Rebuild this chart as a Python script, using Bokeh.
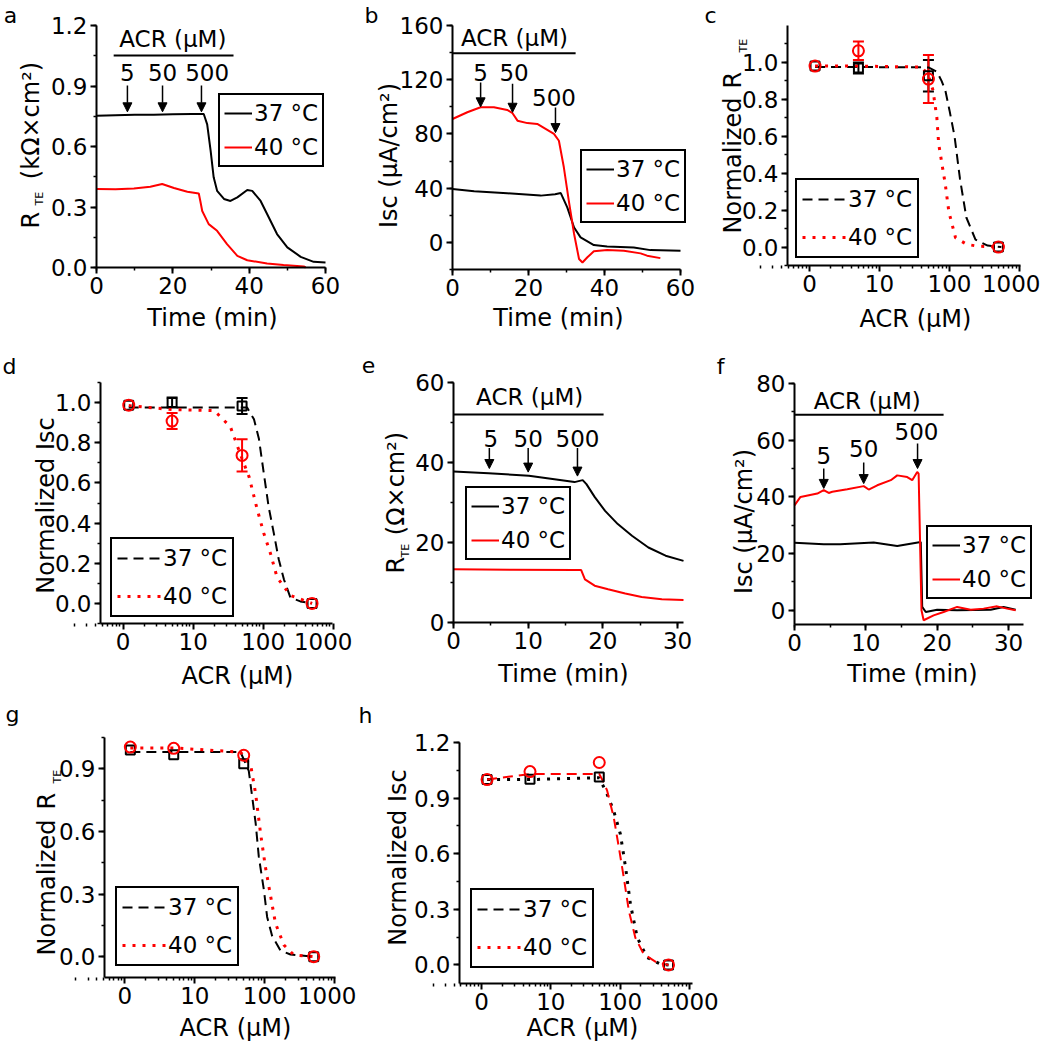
import math
from bokeh.plotting import figure
from bokeh.models import (Range1d, Label, Legend, LegendItem, Arrow, NormalHead,
                          Whisker, TeeHead, ColumnDataSource, SingleIntervalTicker,
                          FixedTicker, NumeralTickFormatter)
from bokeh.layouts import row, column
from bokeh.embed import file_html
from bokeh.resources import INLINE

FONT = "DejaVu Sans"
RED = "#ff0000"

# ---------------- data ----------------
series_labels = ["37 °C", "40 °C"]
doses = ["5", "50", "500"]
conc = [1.2, 5, 50, 500]
conc_ticks = [1, 10, 100, 1000]
conc_tick_labels = ["0", "10", "100", "1000"]

# panel a : RTE (kOhm x cm2) vs time
a_t37 = [0, 5, 10, 15, 20, 25, 28.1, 29.0, 29.9, 30.7, 31.6, 33.4, 35.1, 36.9, 39.5, 40.8, 43.0, 44.7, 47.3, 50.0, 53.5, 56.9, 60.0]
a_r37 = [0.753, 0.755, 0.757, 0.758, 0.760, 0.761, 0.761, 0.71, 0.58, 0.447, 0.38, 0.34, 0.33, 0.348, 0.384, 0.38, 0.33, 0.265, 0.166, 0.10, 0.053, 0.028, 0.025]
a_t40 = [0, 5, 9.8, 14.1, 17.2, 20.3, 23.8, 26.8, 27.2, 27.7, 29.4, 31.6, 34.2, 36.9, 39.5, 44.7, 49.0, 54.3, 54.8]
a_r40 = [0.389, 0.388, 0.392, 0.40, 0.414, 0.394, 0.376, 0.367, 0.33, 0.28, 0.215, 0.182, 0.116, 0.058, 0.036, 0.02, 0.012, 0.005, 0.0]
a_acr_text = [20.0, 1.131]
a_acr_line_x = [4.5, 35.9]
a_acr_line_y = 1.051
a_dose_x = [8.1, 17.3, 29.0]
a_dose_y = [0.967, 0.967, 0.967]
a_arrow_x = [8.1, 17.3, 27.5]
a_arrow_top = [0.903, 0.903, 0.903]
a_arrow_tip = [0.772, 0.772, 0.772]

# panel b : Isc (uA/cm2) vs time
b_t37 = [0, 5.7, 14.4, 23.2, 27.0, 28.5, 30.2, 32.0, 33.7, 37.2, 40.7, 47.7, 52.1, 60.0]
b_i37 = [39.4, 37.7, 36.2, 34.5, 35.5, 36.4, 25.8, 11.0, 3.7, -2.0, -3.0, -3.7, -5.7, -6.2]
b_t40 = [0, 3.9, 7.4, 10.9, 14.4, 15.8, 17.1, 19.7, 22.3, 24.5, 26.7, 28.0, 29.3, 30.6, 32.0, 33.3, 34.2, 35.5, 37.2, 40.7, 45.1, 49.5, 51.2, 54.7]
b_i40 = [91, 96, 99.7, 99.7, 97.7, 95.3, 89.8, 88.0, 87.4, 83.7, 80.0, 75.0, 55.4, 30.8, 6.2, -12.3, -14.8, -11.0, -6.6, -5.7, -6.2, -8.1, -9.8, -11.6]
b_acr_text = [16.3, 151]
b_acr_line_x = [0, 32.4]
b_acr_line_y = 139.6
b_dose_x = [7.4, 16.2, 26.7]
b_dose_y = [125, 125, 107]
b_arrow_x = [7.4, 15.8, 27.1]
b_arrow_top = [118, 117, 99.6]
b_arrow_tip = [100, 96, 81]

# panel c : normalized RTE vs ACR
c_r37 = [0.98, 0.97, 0.928, 0.0]
c_e37 = [0.0, 0.03, 0.085, 0.0]
c_r40 = [0.98, 1.063, 0.91, 0.0]
c_e40 = [0.0, 0.05, 0.13, 0.0]
c_fit37_x = [1.2, 5, 50, 66, 77, 87, 100, 118, 141, 174, 235, 350, 550]
c_fit37_y = [0.975, 0.975, 0.973, 0.95, 0.90, 0.85, 0.74, 0.60, 0.37, 0.16, 0.04, 0.008, 0.0]
c_fit40_x = [1.2, 5, 40, 50, 58, 66, 70, 78, 87, 98, 122, 178, 250, 550]
c_fit40_y = [0.98, 0.98, 0.975, 0.93, 0.85, 0.70, 0.56, 0.45, 0.34, 0.19, 0.05, 0.014, 0.005, 0.0]

# panel d : normalized Isc vs ACR
d_i37 = [0.987, 1.0, 0.983, 0.0]
d_e37 = [0.0, 0.025, 0.04, 0.0]
d_i40 = [0.987, 0.908, 0.737, 0.0]
d_e40 = [0.0, 0.04, 0.08, 0.0]
d_fit37_x = [1.2, 5, 50, 59, 74, 87, 102, 120, 142, 167, 198, 245, 340, 500]
d_fit37_y = [0.975, 0.975, 0.975, 0.975, 0.917, 0.82, 0.65, 0.48, 0.35, 0.22, 0.12, 0.03, 0.01, 0.0]
d_fit40_x = [1.2, 5, 20, 34, 50, 63, 82, 102, 127, 158, 245, 500]
d_fit40_y = [0.985, 0.965, 0.96, 0.88, 0.72, 0.63, 0.47, 0.35, 0.25, 0.13, 0.04, 0.0]

# panel e : RTE (Ohm x cm2) vs time
e_t37 = [0, 4.7, 10.1, 16.2, 17.3, 17.8, 18.9, 20.3, 22.0, 23.9, 26.1, 28.4, 30.8]
e_r37 = [37.75, 37.3, 36.7, 35.1, 35.6, 34.6, 31.4, 27.9, 24.6, 21.7, 18.75, 16.7, 15.4]
e_t40 = [0, 8.0, 16.2, 17.1, 17.6, 18.9, 20.7, 23.0, 25.2, 27.9, 30.8]
e_r40 = [13.3, 13.2, 13.1, 13.1, 10.8, 9.2, 8.3, 7.25, 6.4, 5.8, 5.6]
e_acr_text = [10.2, 56.5]
e_acr_line_x = [0, 20.1]
e_acr_line_y = 52
e_dose_x = [5.0, 10.0, 16.6]
e_dose_y = [46.1, 46.1, 46.1]
e_arrow_x = [4.8, 10.0, 16.6]
e_arrow_top = [43.6, 43.6, 43.6]
e_arrow_tip = [38.5, 37.6, 36.6]

# panel f : Isc (uA/cm2) vs time
f_t37 = [0, 4.1, 6.4, 11.1, 14.4, 17.7, 17.9, 18.4, 20.0, 22.8, 27.5, 29.3, 31.0]
f_i37 = [23.8, 23.3, 23.3, 23.9, 22.7, 24.1, 1.2, -0.6, 0.2, 0.0, 0.2, 1.2, 0.2]
f_t40 = [0, 0.84, 3.2, 4.1, 4.8, 5.3, 7.4, 9.7, 10.4, 11.6, 13.5, 14.4, 15.8, 16.5, 17.2, 17.4, 17.8, 18.1, 19.5, 20.9, 22.8, 24.7, 26.5, 28.4, 29.8, 31.0]
f_i40 = [37, 40, 41.2, 42.4, 41.4, 41.8, 42.7, 43.8, 42.6, 44.1, 45.9, 47.6, 47.0, 45.9, 48.8, 48.2, 0, -3.5, -1.8, -0.6, 1.2, 0.2, 0.6, 1.4, 0.6, 0.0]
f_acr_text = [10.2, 74]
f_acr_line_x = [0, 20.9]
f_acr_line_y = 69
f_dose_x = [4.1, 9.7, 17.1]
f_dose_y = [54.6, 57, 63]
f_arrow_x = [4.1, 9.7, 17.25]
f_arrow_top = [50, 52.1, 58.8]
f_arrow_tip = [43, 44.7, 50]

# panel g : normalized RTE vs ACR
g_r37 = [0.99, 0.967, 0.924, 0.0]
g_r40 = [1.004, 0.998, 0.965, 0.0]
g_fit37_x = [1.2, 5, 45, 59, 64, 74, 82, 97, 108, 127, 167, 233, 500]
g_fit37_y = [0.98, 0.98, 0.98, 0.89, 0.80, 0.64, 0.48, 0.32, 0.19, 0.10, 0.03, 0.01, 0.0]
g_fit40_x = [1.2, 5, 45, 63, 74, 87, 102, 121, 142, 187, 260, 500]
g_fit40_y = [1.0, 1.0, 0.98, 0.915, 0.78, 0.59, 0.43, 0.29, 0.16, 0.056, 0.008, 0.0]

# panel h : normalized Isc vs ACR
h_i37 = [1.0, 1.002, 1.014, 0.0]
h_i40 = [1.0, 1.043, 1.092, 0.0]
h_fit37_x = [1.2, 5, 50, 65, 81, 101, 120, 141, 177, 246, 380, 500]
h_fit37_y = [1.0, 1.0, 1.01, 0.92, 0.83, 0.705, 0.525, 0.327, 0.147, 0.04, 0.005, 0.0]
h_fit40_x = [1.2, 5, 50, 58, 65, 81, 96, 113, 134, 166, 219, 340, 500]
h_fit40_y = [1.0, 1.03, 1.03, 0.984, 0.94, 0.795, 0.633, 0.471, 0.29, 0.147, 0.058, 0.013, 0.0]

# ---------------- layout helpers ----------------
XS = 0   # page x = reference x + XS
SY = 0   # page y = reference y + SY
LOG_MINOR = [m * 10.0 ** e for e in range(-1, 3) for m in range(2, 10)]
PANELS = {}


def new_fig(cx, cy, rect, xr, yr, log=False):
    """Frame = whole canvas; the data rectangle `rect` (page px) is obtained
    by extending the ranges; axes are pinned with fixed_location + bounds."""
    cx0, cx1 = cx
    cy0, cy1 = cy
    W, H = cx1 - cx0, cy1 - cy0
    l, t, r, b = rect
    L, R = l + XS - cx0, r + XS - cx0
    T, B = t + SY - cy0, b + SY - cy0
    fx = math.log10 if log else (lambda v: v)
    gx = (lambda v: 10 ** v) if log else (lambda v: v)
    x0, x1 = fx(xr[0]), fx(xr[1])
    kx = (x1 - x0) / (R - L)
    xs, xe = gx(x0 - L * kx), gx(x1 + (W - R) * kx)
    y0, y1 = yr
    ky = (y1 - y0) / (B - T)
    ys, ye = y0 - (H - B) * ky, y1 + T * ky
    p = figure(width=W, height=H, min_border=0,
               x_range=Range1d(xs, xe), y_range=Range1d(ys, ye),
               x_axis_type="log" if log else "linear",
               output_backend="svg", toolbar_location=None)
    PANELS[p.id] = (cx0, cy0, H)
    p.xgrid.visible = False
    p.ygrid.visible = False
    p.outline_line_color = None
    p.background_fill_color = "white"
    p.border_fill_color = "white"
    p.xaxis.fixed_location = yr[0]
    p.xaxis.bounds = tuple(xr)
    p.yaxis.fixed_location = xr[0]
    p.yaxis.bounds = tuple(yr)
    for ax in (p.xaxis[0], p.yaxis[0]):
        ax.axis_line_width = 2
        ax.axis_line_color = "black"
        ax.major_tick_line_width = 2
        ax.major_tick_line_color = "black"
        ax.minor_tick_line_width = 1.5
        ax.minor_tick_line_color = "black"
        ax.major_tick_out = 6
        ax.major_tick_in = 0
        ax.minor_tick_out = 3
        ax.minor_tick_in = 0
        ax.major_label_text_font = FONT
        ax.major_label_text_font_size = "23px"
        ax.major_label_text_color = "black"
        ax.major_label_standoff = 3
    if log:
        p.xaxis.ticker = FixedTicker(ticks=conc_ticks, minor_ticks=LOG_MINOR)
        p.xaxis.major_label_overrides = {t: s for t, s in zip(conc_ticks, conc_tick_labels)}
    return p


def scr(p, x, y):
    cx0, cy0, H = PANELS[p.id]
    return x + XS - cx0, H - (y + SY - cy0)


def txt(p, x, y, text, size="24px", angle=0.0, align="center", baseline="middle"):
    sx, sy = scr(p, x, y)
    p.add_layout(Label(x=sx, y=sy, x_units="screen", y_units="screen",
                       text=text, angle=angle, text_align=align, text_baseline=baseline,
                       text_font=FONT, text_font_size=size, text_color="black"))


def vtxt(p, x, y, text, size="24px", align="left"):
    txt(p, x, y, text, size=size, angle=math.pi / 2, align=align, baseline="alphabetic")


def add_legend(p, r1, r2, left_bottom, glyph_w, spacing, padding):
    loc = scr(p, *left_bottom)
    lg = Legend(items=[LegendItem(label=series_labels[0], renderers=[r1]),
                       LegendItem(label=series_labels[1], renderers=[r2])],
                location=loc, margin=0, padding=padding, spacing=spacing,
                glyph_width=glyph_w, glyph_height=28, label_height=28,
                label_standoff=2, border_line_color="black", border_line_width=2,
                border_line_alpha=1.0,
                background_fill_color="white", background_fill_alpha=1.0,
                label_text_font=FONT, label_text_font_size="23px",
                label_text_color="black")
    p.add_layout(lg)


def add_acr(p, text_xy, line_x, line_y, dx, dy, ax_, atop, atip):
    p.add_layout(Label(x=text_xy[0], y=text_xy[1], text="ACR (µM)", text_align="center",
                       text_baseline="middle", text_font=FONT, text_font_size="23px",
                       text_color="black"))
    p.line(line_x, [line_y, line_y], line_color="black", line_width=2)
    for s, x, y in zip(doses, dx, dy):
        p.add_layout(Label(x=x, y=y, text=s, text_align="center", text_baseline="middle",
                           text_font=FONT, text_font_size="23px", text_color="black"))
    for x, y0, y1 in zip(ax_, atop, atip):
        p.add_layout(Arrow(end=NormalHead(size=9, fill_color="black", line_color="black",
                                          line_width=1),
                           x_start=x, y_start=y0, x_end=x, y_end=y1,
                           line_color="black", line_width=1.5))


def time_series(p, t37, v37, t40, v40):
    r1 = p.line(t37, v37, line_color="black", line_width=2)
    r2 = p.line(t40, v40, line_color=RED, line_width=2)
    return r1, r2


def add_errors(p, ys, es, color):
    xs = [x for x, e in zip(conc, es) if e > 0]
    up = [y + e for y, e in zip(ys, es) if e > 0]
    lo = [y - e for y, e in zip(ys, es) if e > 0]
    src = ColumnDataSource(dict(x=xs, upper=up, lower=lo))
    p.add_layout(Whisker(source=src, base="x", upper="upper", lower="lower",
                         dimension="height", line_color=color, line_width=2,
                         upper_head=TeeHead(size=11, line_color=color, line_width=2),
                         lower_head=TeeHead(size=11, line_color=color, line_width=2)))


def dose_points(p, y37, y40):
    p.scatter(conc, y37, marker="square", size=9, fill_alpha=0, line_color="black", line_width=2)
    p.scatter(conc, y40, marker="circle", size=11, fill_alpha=0, line_color=RED, line_width=2)


DASH = "10 6"
DOT = "3 7"
NAN = float("nan")
LETTER = "22px"

ROW1, ROW2, ROW3 = (0, 343), (343, 695), (695, 1045)

# ---------------- panel a ----------------
pa = new_fig((0, 348), ROW1, (96, 25, 325, 267), (0, 60), (0, 1.2))
pa.xaxis.ticker = SingleIntervalTicker(interval=20, num_minor_ticks=2)
pa.yaxis.ticker = SingleIntervalTicker(interval=0.3, num_minor_ticks=2)
pa.yaxis.formatter = NumeralTickFormatter(format="0.0")
ra1, ra2 = time_series(pa, a_t37, a_r37, a_t40, a_r40)
add_acr(pa, a_acr_text, a_acr_line_x, a_acr_line_y, a_dose_x, a_dose_y, a_arrow_x, a_arrow_top, a_arrow_tip)
add_legend(pa, ra1, ra2, (218, 167), 28, 6, 4)
txt(pa, 10, 15, "a", size=LETTER)
vtxt(pa, 30, 228, "R")
vtxt(pa, 39, 205, "TE", size="11px")
vtxt(pa, 30, 120, "(kΩ×cm²)", align="center")
txt(pa, 212, 317, "Time (min)")

# ---------------- panel b ----------------
pb = new_fig((348, 701), ROW1, (452, 25, 680, 269), (0, 60), (-20, 160))
pb.xaxis.ticker = SingleIntervalTicker(interval=20, num_minor_ticks=2)
pb.yaxis.ticker = SingleIntervalTicker(interval=40, num_minor_ticks=2)
rb1, rb2 = time_series(pb, b_t37, b_i37, b_t40, b_i40)
add_acr(pb, b_acr_text, b_acr_line_x, b_acr_line_y, b_dose_x, b_dose_y, b_arrow_x, b_arrow_top, b_arrow_tip)
add_legend(pb, rb1, rb2, (580, 223), 28, 6, 4)
txt(pb, 371, 15, "b", size=LETTER)
vtxt(pb, 388, 155, "Isc (µA/cm²)", align="center")
txt(pb, 558, 317, "Time (min)")

# ---------------- panel c ----------------
pc = new_fig((701, 1040), ROW1, (787, 25, 1020, 265), (0.485, 1033), (-0.1, 1.2), log=True)
pc.yaxis.ticker = SingleIntervalTicker(interval=0.2, num_minor_ticks=2)
pc.yaxis.formatter = NumeralTickFormatter(format="0.0")
rc1 = pc.line(c_fit37_x, c_fit37_y, line_color="black", line_width=2, line_dash=DASH)
rc2 = pc.line(c_fit40_x, c_fit40_y, line_color=RED, line_width=3, line_dash=DOT)
add_errors(pc, c_r37, c_e37, "black")
add_errors(pc, c_r40, c_e40, RED)
dose_points(pc, c_r37, c_r40)
add_legend(pc, rc1, rc2, (795, 258), 44, 10, 5)
txt(pc, 710, 15, "c", size=LETTER)
vtxt(pc, 732, 233, "Normalized")
vtxt(pc, 732, 88, "R")
vtxt(pc, 743, 52, "TE", size="11px")
txt(pc, 915, 318, "ACR (µM)")

# ---------------- panel d ----------------
pd_ = new_fig((0, 352), ROW2, (100, 382, 332, 623), (0.474, 980), (-0.1, 1.1), log=True)
pd_.yaxis.ticker = SingleIntervalTicker(interval=0.2, num_minor_ticks=2)
pd_.yaxis.formatter = NumeralTickFormatter(format="0.0")
rd1 = pd_.line(d_fit37_x, d_fit37_y, line_color="black", line_width=2, line_dash=DASH)
rd2 = pd_.line(d_fit40_x, d_fit40_y, line_color=RED, line_width=3, line_dash=DOT)
add_errors(pd_, d_i37, d_e37, "black")
add_errors(pd_, d_i40, d_e40, RED)
dose_points(pd_, d_i37, d_i40)
add_legend(pd_, rd1, rd2, (110, 617), 44, 10, 5)
txt(pd_, 9, 366, "d", size=LETTER)
vtxt(pd_, 45, 505, "Normalized Isc", align="center")
txt(pd_, 237, 675, "ACR (µM)")

# ---------------- panel e ----------------
pe = new_fig((352, 703), ROW2, (453, 382, 683, 622), (0, 30.8), (0, 60))
pe.xaxis.ticker = SingleIntervalTicker(interval=10, num_minor_ticks=2)
pe.yaxis.ticker = SingleIntervalTicker(interval=20, num_minor_ticks=2)
re1, re2 = time_series(pe, e_t37, e_r37, e_t40, e_r40)
add_acr(pe, e_acr_text, e_acr_line_x, e_acr_line_y, e_dose_x, e_dose_y, e_arrow_x, e_arrow_top, e_arrow_tip)
add_legend(pe, re1, re2, (465, 560), 28, 6, 4)
txt(pe, 368, 364, "e", size=LETTER)
vtxt(pe, 395, 573, "R")
vtxt(pe, 405, 557, "TE", size="11px")
vtxt(pe, 395, 483, "(Ω×cm²)", align="center")
txt(pe, 563, 673, "Time (min)")

# ---------------- panel f ----------------
pf = new_fig((703, 1040), ROW2, (794, 383, 1023, 624), (0, 32.1), (-5, 80))
pf.xaxis.ticker = SingleIntervalTicker(interval=10, num_minor_ticks=2)
pf.yaxis.ticker = SingleIntervalTicker(interval=20, num_minor_ticks=2)
rf1, rf2 = time_series(pf, f_t37, f_i37, f_t40, f_i40)
add_acr(pf, f_acr_text, f_acr_line_x, f_acr_line_y, f_dose_x, f_dose_y, f_arrow_x, f_arrow_top, f_arrow_tip)
add_legend(pf, rf1, rf2, (926, 599), 28, 6, 4)
txt(pf, 720, 366, "f", size=LETTER)
vtxt(pf, 743, 521, "Isc (µA/cm²)", align="center")
txt(pf, 912, 673, "Time (min)")

# ---------------- panel g ----------------
pg = new_fig((0, 356), ROW3, (104, 737, 335, 977), (0.513, 1023), (-0.1, 1.05), log=True)
pg.yaxis.ticker = SingleIntervalTicker(interval=0.3, num_minor_ticks=2)
pg.yaxis.formatter = NumeralTickFormatter(format="0.0")
rg1 = pg.line(g_fit37_x, g_fit37_y, line_color="black", line_width=2, line_dash=DASH)
rg2 = pg.line(g_fit40_x, g_fit40_y, line_color=RED, line_width=3, line_dash=DOT)
dose_points(pg, g_r37, g_r40)
add_legend(pg, rg1, rg2, (115, 966), 44, 10, 5)
txt(pg, 12, 714, "g", size=LETTER)
vtxt(pg, 46, 955, "Normalized")
vtxt(pg, 46, 809, "R")
vtxt(pg, 57, 783, "TE", size="11px")
txt(pg, 235, 1027, "ACR (µM)")

# ---------------- panel h ----------------
ph = new_fig((356, 726), ROW3, (459, 742, 692, 983), (0.48, 1109), (-0.1, 1.2), log=True)
ph.yaxis.ticker = SingleIntervalTicker(interval=0.3, num_minor_ticks=2)
ph.yaxis.formatter = NumeralTickFormatter(format="0.0")
ph.line(h_fit37_x, h_fit37_y, line_color="black", line_width=3, line_dash=DOT)
ph.line(h_fit40_x, h_fit40_y, line_color=RED, line_width=2, line_dash=DASH)
rh1 = ph.line([NAN], [NAN], line_color="black", line_width=2, line_dash=DASH)
rh2 = ph.line([NAN], [NAN], line_color=RED, line_width=3, line_dash=DOT)
dose_points(ph, h_i37, h_i40)
add_legend(ph, rh1, rh2, (470, 968), 44, 10, 5)
txt(ph, 365, 715, "h", size=LETTER)
vtxt(ph, 397, 857, "Normalized Isc", align="center")
txt(ph, 582, 1027, "ACR (µM)")

layout = column(row(pa, pb, pc), row(pd_, pe, pf), row(pg, ph))

with open("out.html", "w") as fh:
    fh.write(file_html(layout, INLINE, title="ACR panels"))
